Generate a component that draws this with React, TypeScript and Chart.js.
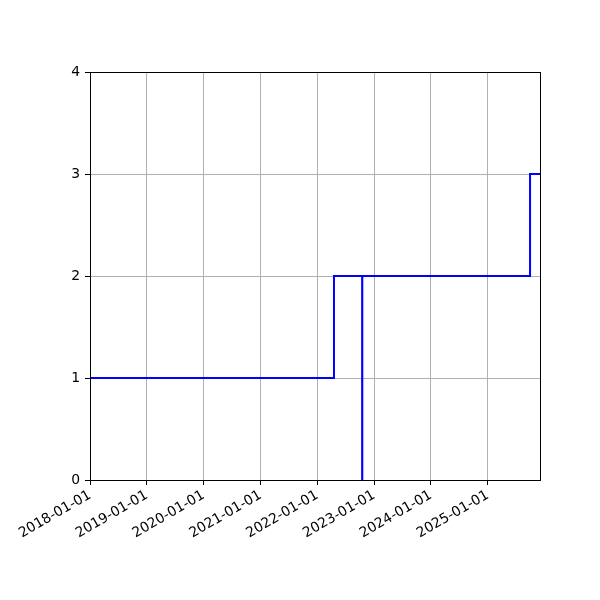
import React, { useEffect, useRef } from "react";
import { Chart, registerables } from "chart.js";

Chart.register(...registerables);

const dates = ["2018-01-01", "2022-04-18", "2022-10-16", "2022-10-17", "2025-09-29", "2025-12-02"];
const counts = [1, 2, 0, 2, 3, 3];
const xTickDates = ["2018-01-01", "2019-01-01", "2020-01-01", "2021-01-01", "2022-01-01", "2023-01-01", "2024-01-01", "2025-01-01"];
const yTicks = [0, 1, 2, 3, 4];

const framePlugin = {
  id: "frame",
  afterDraw(chart: any) {
    const { ctx, chartArea } = chart;
    ctx.save();
    ctx.strokeStyle = "#000";
    ctx.lineWidth = 1;
    ctx.strokeRect(
      Math.round(chartArea.left) + 0.5,
      Math.round(chartArea.top) + 0.5,
      Math.round(chartArea.right - chartArea.left),
      Math.round(chartArea.bottom - chartArea.top)
    );
    ctx.restore();
  },
};

export default function App() {
  const ref = useRef<HTMLCanvasElement>(null);
  useEffect(() => {
    document.body.style.margin = "0";
    const font = { family: "DejaVu Sans", size: 13.9 };
    const chart = new Chart(ref.current!, {
      type: "line",
      data: {
        datasets: [
          {
            data: dates.map((d, i) => ({ x: Date.parse(d), y: counts[i] })),
            borderColor: "#0000ff",
            borderWidth: 2,
            pointRadius: 0,
            stepped: true,
            fill: false,
          },
        ],
      },
      options: {
        animation: false,
        responsive: false,
        devicePixelRatio: 1,
        layout: { padding: { left: 0, right: 60, top: 72, bottom: 0 } },
        plugins: { legend: { display: false }, tooltip: { enabled: false } },
        scales: {
          x: {
            type: "linear",
            min: Date.parse(dates[0]),
            max: Date.parse(dates[dates.length - 1]),
            afterBuildTicks: (scale: any) => {
              scale.ticks = xTickDates.map((d) => ({ value: Date.parse(d) }));
            },
            afterFit: (scale: any) => {
              scale.height = 120;
            },
            ticks: {
              color: "#000",
              font,
              minRotation: 30,
              maxRotation: 30,
              padding: 2,
              callback: (v: any) => new Date(v).toISOString().slice(0, 10),
            },
            grid: { color: "#b0b0b0", tickColor: "#000", tickLength: 5, lineWidth: 1 },
            border: { color: "#000", width: 1 },
          },
          y: {
            min: 0,
            max: 4,
            afterBuildTicks: (scale: any) => {
              scale.ticks = yTicks.map((v) => ({ value: v }));
            },
            afterFit: (scale: any) => {
              scale.width = 90;
            },
            ticks: { color: "#000", font, padding: 5, callback: (v: any) => String(v) },
            grid: { color: "#b0b0b0", tickColor: "#000", tickLength: 5, lineWidth: 1 },
            border: { color: "#000", width: 1 },
          },
        },
      },
      plugins: [framePlugin],
    });
    return () => chart.destroy();
  }, []);
  return (
    <div style={{ position: "absolute", left: 0, top: 0, width: 600, height: 600, background: "#fff" }}>
      <canvas ref={ref} width={600} height={600} style={{ width: 600, height: 600 }} />
    </div>
  );
}
